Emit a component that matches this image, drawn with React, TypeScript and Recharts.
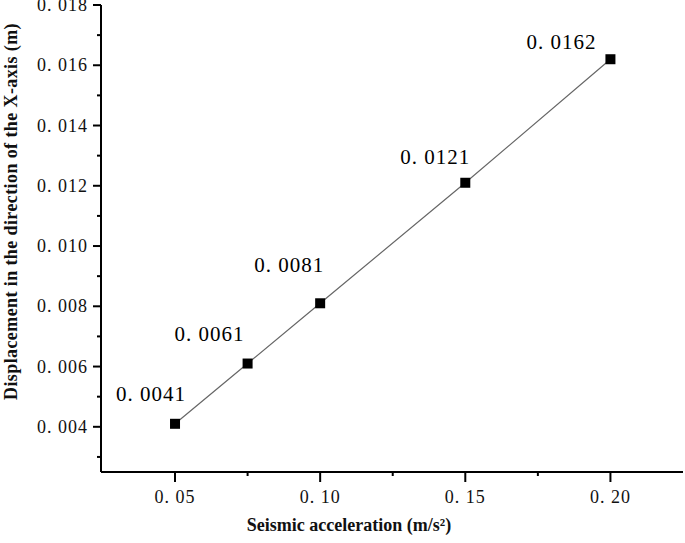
import React from 'react';
import { LineChart, Line, XAxis, YAxis, LabelList } from 'recharts';

const accel = [0.05, 0.075, 0.1, 0.15, 0.2];
const displacement = [0.0041, 0.0061, 0.0081, 0.0121, 0.0162];
const pointLabels = ['0. 0041', '0. 0061', '0. 0081', '0. 0121', '0. 0162'];

const xMajorTicks = [0.05, 0.1, 0.15, 0.2];
const xMajorLabels = ['0. 05', '0. 10', '0. 15', '0. 20'];
const xMinorTicks = [0.075, 0.125, 0.175];

const yMajorTicks = [0.004, 0.006, 0.008, 0.01, 0.012, 0.014, 0.016, 0.018];
const yMajorLabels = ['0. 004', '0. 006', '0. 008', '0. 010', '0. 012', '0. 014', '0. 016', '0. 018'];
const yMinorTicks = [0.003, 0.005, 0.007, 0.009, 0.011, 0.013, 0.015, 0.017];

const xTitle = 'Seismic acceleration (m/s²)';
const yTitle = 'Displacement in the direction of the X-axis (m)';

// label placement offsets (styling only)
const labelOffsets: [number, number][] = [
  [-24, -30],
  [-38, -30],
  [-31, -38],
  [-30, -26],
  [-49, -17],
];

const chartData = accel.map((a, i) => ({ x: a, y: displacement[i] }));

const FONT = '"Liberation Serif", "Times New Roman", serif';

const XTick = (props: any) => {
  const { x, y, payload } = props;
  const i = xMajorTicks.indexOf(payload.value);
  if (i < 0) {
    return <line x1={x} x2={x} y1={y} y2={y + 4} stroke="#000" strokeWidth={2} />;
  }
  return (
    <g>
      <line x1={x} x2={x} y1={y} y2={y + 10} stroke="#000" strokeWidth={2} />
      <text
        x={x}
        y={y + 25}
        textAnchor="middle"
        dominantBaseline="central"
        fontFamily={FONT}
        fontSize={18}
        letterSpacing={1}
        fill="#111"
      >
        {xMajorLabels[i]}
      </text>
    </g>
  );
};

const YTick = (props: any) => {
  const { x, y, payload } = props;
  const i = yMajorTicks.indexOf(payload.value);
  if (i < 0) {
    return <line x1={x - 4} x2={x} y1={y} y2={y} stroke="#000" strokeWidth={2} />;
  }
  return (
    <g>
      <line x1={x - 8} x2={x} y1={y} y2={y} stroke="#000" strokeWidth={2} />
      <text
        x={x - 13}
        y={y}
        textAnchor="end"
        dominantBaseline="central"
        fontFamily={FONT}
        fontSize={18}
        letterSpacing={1}
        fill="#111"
      >
        {yMajorLabels[i]}
      </text>
    </g>
  );
};

const PointLabel = (props: any) => {
  const { x, y, index } = props;
  const [dx, dy] = labelOffsets[index] || [0, -20];
  return (
    <text
      x={x + dx}
      y={y + dy}
      textAnchor="middle"
      dominantBaseline="central"
      fontFamily={FONT}
      fontSize={21}
      letterSpacing={1}
      fill="#000"
    >
      {pointLabels[index]}
    </text>
  );
};

const SquareDot = (props: any) => {
  const { cx, cy, index } = props;
  return <rect key={`dot-${index}`} x={cx - 5} y={cy - 5} width={10} height={10} fill="#000" />;
};

const XTitle = (props: any) => {
  const { viewBox } = props;
  const cx = viewBox.x + viewBox.width / 2 - 43;
  return (
    <text
      x={cx}
      y={525}
      textAnchor="middle"
      dominantBaseline="central"
      fontFamily={FONT}
      fontWeight="bold"
      fontSize={18}
      fill="#111"
    >
      {xTitle}
    </text>
  );
};

const YTitle = (props: any) => {
  const { viewBox } = props;
  const cy = viewBox.y + viewBox.height / 2 - 27;
  const cx = 11;
  return (
    <text
      x={cx}
      y={cy}
      transform={`rotate(-90, ${cx}, ${cy})`}
      textAnchor="middle"
      dominantBaseline="central"
      fontFamily={FONT}
      fontWeight="bold"
      fontSize={18}
      letterSpacing={0.4}
      fill="#111"
    >
      {yTitle}
    </text>
  );
};

export default function App() {
  return (
    <div style={{ position: 'absolute', left: 0, top: 0, background: '#fff' }}>
      <LineChart
        width={685}
        height={543}
        data={chartData}
        margin={{ top: 5, right: 2, bottom: 0, left: 0 }}
      >
        <XAxis
          dataKey="x"
          type="number"
          domain={[0.0245, 0.225]}
          allowDataOverflow
          ticks={[...xMajorTicks, ...xMinorTicks]}
          interval={0}
          tickSize={0}
          tickMargin={0}
          tick={<XTick />}
          height={71}
          axisLine={{ stroke: '#000', strokeWidth: 2 }}
          label={<XTitle />}
        />
        <YAxis
          dataKey="y"
          type="number"
          domain={[0.0025, 0.018]}
          allowDataOverflow
          ticks={[...yMajorTicks, ...yMinorTicks]}
          interval={0}
          tickSize={0}
          tickMargin={0}
          tick={<YTick />}
          width={101}
          axisLine={{ stroke: '#000', strokeWidth: 2 }}
          label={<YTitle />}
        />
        <Line
          dataKey="y"
          type="linear"
          stroke="#666"
          strokeWidth={1.2}
          dot={<SquareDot />}
          activeDot={false}
          isAnimationActive={false}
        >
          <LabelList dataKey="y" content={<PointLabel />} />
        </Line>
      </LineChart>
    </div>
  );
}
